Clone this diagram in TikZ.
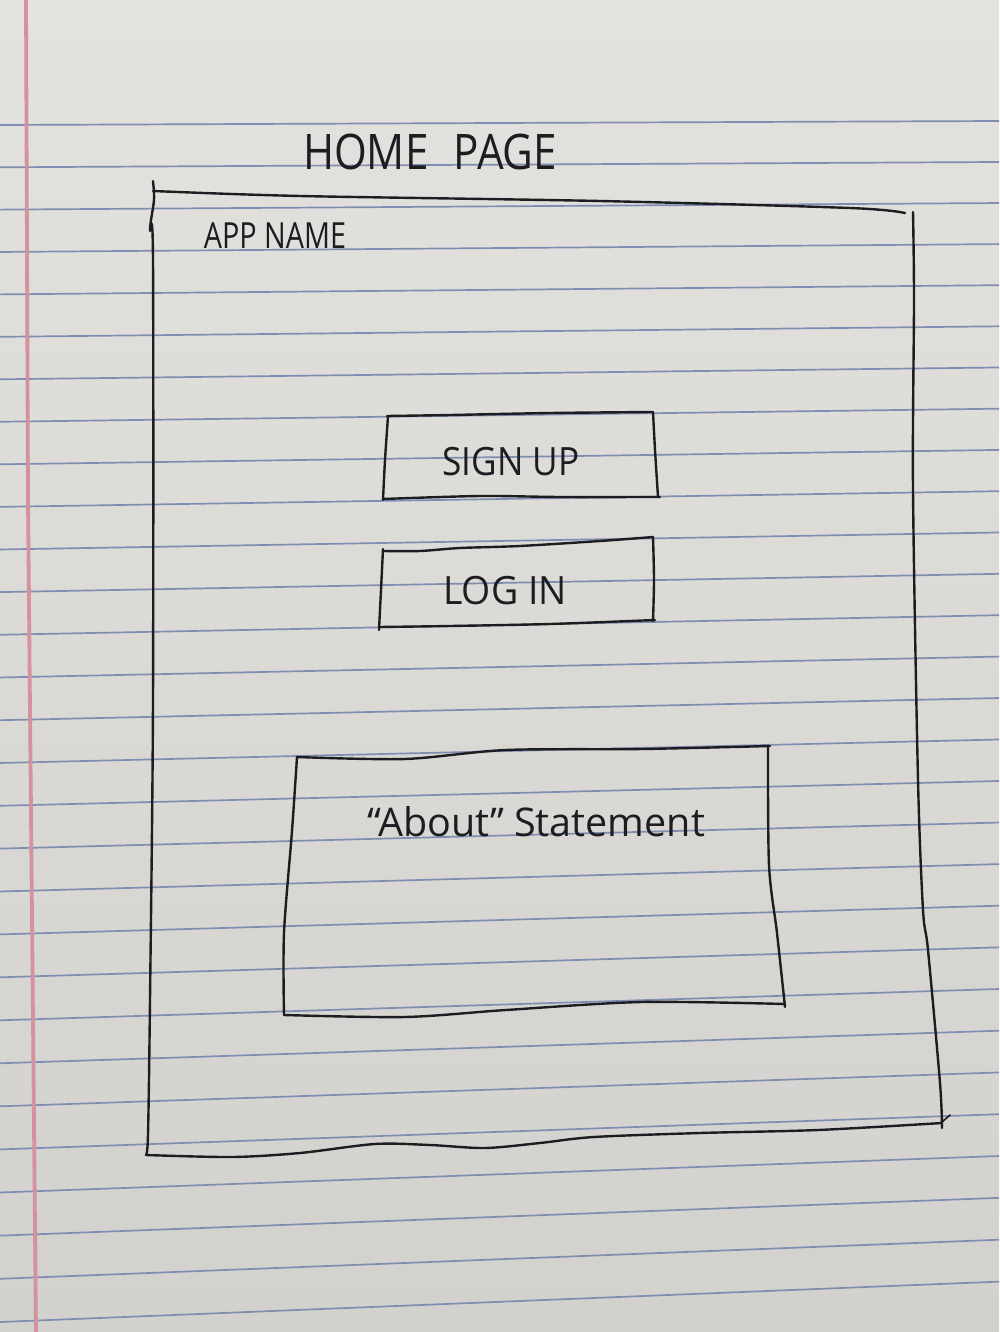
\documentclass[tikz,border=0pt]{standalone}
\usepackage{fontspec}
\setmainfont{Open Sans}
\usepackage{graphicx}
\definecolor{paperTop}{HTML}{E4E2DE}
\definecolor{paperBottom}{HTML}{D3D1CD}
\definecolor{ruleblue}{HTML}{7F8DB2}
\definecolor{marginred}{HTML}{D4919E}
\definecolor{ink}{HTML}{1D1D21}
\begin{document}
\begin{tikzpicture}[x=1pt,y=-1pt,
  pen/.style={draw=ink, line width=2.4pt, line cap=round, line join=round},
  ruling/.style={draw=ruleblue, line width=1.7pt},
  hand/.style={text=ink, inner sep=0pt, anchor=center}]
  \useasboundingbox (0,0) rectangle (999,1332);
  % sheet of lined paper
  \shade[top color=paperTop, bottom color=paperBottom] (0,0) rectangle (999,1332);
  \foreach \i in {0,...,28} {
    \pgfmathsetmacro\yl{125+42.28*\i+0.0168*\i*\i}
    \pgfmathsetmacro\yr{\yl-4-1.3*\i}
    \draw[ruling] (0,\yl) -- (999,\yr);
  }
  \draw[draw=marginred, line width=3.8pt] (26,0) -- (28,500) -- (36,1332);

  % page title
  \node[hand, font=\fontsize{49}{49}\selectfont] (title) at (430,152)
    {\scalebox{0.86}[1]{HOME\hspace{0.6em}PAGE}};

  % outer screen frame
  \draw[pen] plot[smooth, tension=0.5] coordinates {(153,191) (300,196) (600,201) (850,208) (905,213)};
  \draw[pen] plot[smooth, tension=0.5] coordinates {(913,212) (914,300) (913,490) (918,780) (923,910) (928,950) (940,1083) (942,1128)};
  \draw[pen, line width=1.6pt] (942,1122) -- (950,1115);
  \draw[pen] plot[smooth, tension=0.5] coordinates {(146,1155) (232,1157) (300,1153) (375,1144) (430,1145) (485,1148) (540,1143) (594,1137) (700,1133) (818,1130) (942,1123)};
  \draw[pen] plot[smooth, tension=0.5] coordinates {(153,181) (154,200) (150,230) (153,260) (153,700) (150,1000) (148,1135) (146,1155)};

  \node[hand, font=\fontsize{36}{36}\selectfont] (appname) at (275,236)
    {\scalebox{0.8}[1]{APP NAME}};

  % sign up button
  \draw[pen] plot[smooth, tension=0.5] coordinates {(387,416) (450,415) (550,413) (653,412)};
  \draw[pen] plot[smooth, tension=0.5] coordinates {(653,412) (655,450) (658,497)};
  \draw[pen] plot[smooth, tension=0.5] coordinates {(383,499) (480,496) (560,497) (660,497)};
  \draw[pen] plot[smooth, tension=0.5] coordinates {(388,416) (385,460) (383,500)};
  \node[hand, font=\fontsize{39}{39}\selectfont] (signup) at (511,462)
    {\scalebox{0.9}[1]{SIGN UP}};

  % log in button
  \draw[pen] plot[smooth, tension=0.5] coordinates {(383,551) (420,551) (460,548) (520,546) (600,541) (653,537)};
  \draw[pen] plot[smooth, tension=0.5] coordinates {(653,537) (654,580) (653,621)};
  \draw[pen] plot[smooth, tension=0.5] coordinates {(379,627) (450,626) (550,624) (655,620)};
  \draw[pen] plot[smooth, tension=0.5] coordinates {(383,549) (381,590) (379,630)};
  \node[hand, font=\fontsize{39}{39}\selectfont] (login) at (505,591)
    {\scalebox{0.96}[1]{LOG IN}};

  % about panel
  \draw[pen] plot[smooth, tension=0.5] coordinates {(297,757) (405,759) (506,750) (642,749) (770,746)};
  \draw[pen] plot[smooth, tension=0.5] coordinates {(768,746) (769,865) (777,933) (785,1007)};
  \draw[pen] plot[smooth, tension=0.5] coordinates {(284,1015) (405,1017) (506,1010) (642,1002) (785,1004)};
  \draw[pen] plot[smooth, tension=0.5] coordinates {(297,757) (292,831) (284,933) (284,1015)};
  \node[hand, font=\fontsize{39.5}{39.5}\selectfont] (about) at (536,822)
    {“About” Statement};
\end{tikzpicture}
\end{document}
